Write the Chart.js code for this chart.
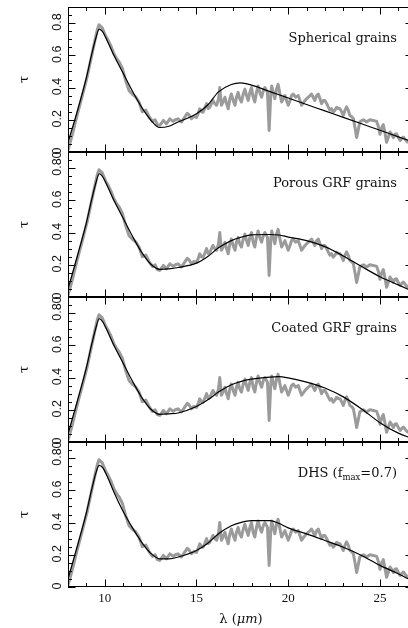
<!DOCTYPE html>
<html>
<head>
<meta charset="utf-8">
<script src="https://cdn.jsdelivr.net/npm/chart.js@4"></script>
<style>
  html, body { margin: 0; padding: 0; background: #fff; overflow: hidden; width: 408px; height: 628px; }
  canvas { position: absolute; left: 0; }
</style>
</head>
<body>
<script>
// observed optical depth profile, [lambda (um), tau]; the same spectrum in every panel
const obsSpectrum = [
  [8.0, 0.01], [8.24, 0.11], [8.5, 0.23], [8.78, 0.35], [9.05, 0.47], [9.33, 0.62], [9.5, 0.71],
  [9.6, 0.76], [9.69, 0.79], [9.78, 0.78], [9.87, 0.77], [10.05, 0.72], [10.2, 0.69], [10.33, 0.66],
  [10.5, 0.61], [10.65, 0.58], [10.78, 0.56], [10.96, 0.52], [11.15, 0.44], [11.33, 0.38],
  [11.5, 0.36], [11.7, 0.34], [11.87, 0.31], [12.05, 0.25], [12.24, 0.26], [12.42, 0.22],
  [12.6, 0.19], [12.75, 0.2], [12.87, 0.17], [13.0, 0.165], [13.1, 0.18], [13.2, 0.196],
  [13.36, 0.175], [13.55, 0.206], [13.73, 0.19], [13.85, 0.2], [14.0, 0.206], [14.18, 0.186],
  [14.36, 0.216], [14.5, 0.24], [14.6, 0.23], [14.73, 0.206], [14.85, 0.22], [15.0, 0.215],
  [15.1, 0.24], [15.18, 0.268], [15.27, 0.25], [15.36, 0.247], [15.45, 0.27], [15.55, 0.30],
  [15.64, 0.27], [15.73, 0.278], [15.82, 0.3], [15.9, 0.32], [16.0, 0.3], [16.1, 0.29],
  [16.2, 0.33], [16.27, 0.40], [16.36, 0.29], [16.45, 0.31], [16.55, 0.34], [16.64, 0.3],
  [16.73, 0.268], [16.82, 0.33], [16.9, 0.36], [17.0, 0.32], [17.1, 0.29], [17.18, 0.34],
  [17.27, 0.37], [17.36, 0.33], [17.45, 0.31], [17.55, 0.36], [17.64, 0.39], [17.73, 0.35],
  [17.82, 0.32], [17.91, 0.37], [18.0, 0.40], [18.09, 0.34], [18.18, 0.31], [18.27, 0.37],
  [18.36, 0.41], [18.45, 0.37], [18.55, 0.34], [18.64, 0.38], [18.73, 0.40], [18.87, 0.37],
  [18.96, 0.134], [19.05, 0.36], [19.1, 0.41], [19.18, 0.37], [19.27, 0.33], [19.36, 0.39],
  [19.45, 0.42], [19.55, 0.36], [19.64, 0.31], [19.73, 0.33], [19.82, 0.35], [19.91, 0.32],
  [20.0, 0.29], [20.1, 0.32], [20.18, 0.35], [20.27, 0.36], [20.4, 0.34], [20.55, 0.35],
  [20.64, 0.32], [20.73, 0.29], [20.85, 0.31], [21.0, 0.33], [21.1, 0.34], [21.27, 0.36],
  [21.36, 0.34], [21.45, 0.32], [21.55, 0.35], [21.64, 0.36], [21.73, 0.33], [21.82, 0.30],
  [21.91, 0.32], [22.0, 0.32], [22.1, 0.3], [22.18, 0.28], [22.27, 0.26], [22.36, 0.27],
  [22.45, 0.247], [22.55, 0.26], [22.64, 0.278], [22.73, 0.27], [22.82, 0.268], [22.91, 0.25],
  [23.0, 0.227], [23.1, 0.26], [23.18, 0.28], [23.27, 0.26], [23.36, 0.227], [23.45, 0.22],
  [23.55, 0.206], [23.64, 0.15], [23.73, 0.09], [23.82, 0.14], [23.9, 0.186], [24.0, 0.195],
  [24.1, 0.2], [24.27, 0.186], [24.45, 0.2], [24.64, 0.196], [24.82, 0.19], [24.91, 0.16],
  [25.0, 0.11], [25.09, 0.15], [25.18, 0.17], [25.27, 0.12], [25.36, 0.06], [25.45, 0.09],
  [25.55, 0.124], [25.64, 0.11], [25.73, 0.09], [25.82, 0.11], [25.9, 0.113], [26.0, 0.09],
  [26.1, 0.072], [26.2, 0.085], [26.27, 0.093], [26.4, 0.075], [26.5, 0.062], [26.7, 0.08]
];

// model fits
const modelLambda = [
  8.0, 8.5, 9.0, 9.3, 9.5, 9.7, 9.9, 10.2, 10.5, 11.0, 11.5, 12.0, 12.5, 13.0, 13.5, 14.0,
  15.0, 15.6, 16.2, 16.9, 17.4, 18.0, 19.0, 19.5, 20.0, 21.0, 22.0, 23.0, 24.0, 25.0, 26.0, 26.8
];
const tauSpherical = [
  0.06, 0.25, 0.46, 0.61, 0.70, 0.763, 0.745, 0.675, 0.60, 0.49, 0.38, 0.28, 0.20, 0.152, 0.16, 0.186,
  0.238, 0.29, 0.373, 0.419, 0.429, 0.415, 0.375, 0.355, 0.335, 0.295, 0.255, 0.215, 0.175, 0.135, 0.094, 0.062
];
const tauPorous = [
  0.05, 0.25, 0.46, 0.61, 0.70, 0.765, 0.745, 0.675, 0.60, 0.49, 0.38, 0.28, 0.205, 0.172, 0.175, 0.183,
  0.21, 0.25, 0.305, 0.35, 0.37, 0.385, 0.388, 0.385, 0.372, 0.35, 0.313, 0.255, 0.189, 0.126, 0.075, 0.035
];
const tauCoated = [
  0.05, 0.25, 0.46, 0.61, 0.70, 0.765, 0.745, 0.675, 0.60, 0.49, 0.38, 0.28, 0.205, 0.172, 0.175, 0.18,
  0.22, 0.26, 0.31, 0.355, 0.375, 0.39, 0.403, 0.406, 0.398, 0.372, 0.335, 0.28, 0.205, 0.12, 0.055, 0.02
];
const tauDHS = [
  0.05, 0.25, 0.46, 0.61, 0.70, 0.755, 0.74, 0.67, 0.59, 0.47, 0.37, 0.28, 0.21, 0.175, 0.175, 0.186,
  0.227, 0.27, 0.33, 0.38, 0.40, 0.412, 0.412, 0.395, 0.367, 0.33, 0.289, 0.247, 0.196, 0.134, 0.082, 0.035
];

const panelModels = [tauSpherical, tauPorous, tauCoated, tauDHS];
const panelNames = ['Spherical grains', 'Porous GRF grains', 'Coated GRF grains', 'DHS'];

const xTicks = [10, 15, 20, 25];
const yTicks = [0, 0.2, 0.4, 0.6, 0.8];
const yTickLabelsFirst = ['0', '0.2', '0.4', '0.6', '0.8'];
const yTickLabelsRest = ['0', '0.2', '0.4', '0.6', '0.80'];

const PANEL_TOPS = [7, 152, 297, 442];
const PANEL_H = 145;
const PAD = 10;
const BOTTOM_EXTRA = 41;
const CAPTION_FONT = '13px "DejaVu Serif", serif';

// frame, inward ticks and all text for one panel
function panelDecor(idx, last) {
  return {
    id: 'panelDecor',
    afterDatasetsDraw(chart) {
      const { ctx, chartArea: a, scales: { x, y } } = chart;
      ctx.save();
      ctx.strokeStyle = '#000';
      ctx.lineWidth = 1;
      ctx.strokeRect(a.left + 0.5, a.top + 0.5, a.width - 1, a.height - 1);

      ctx.beginPath();
      for (let v = 8; v <= 26; v++) {
        const px = Math.round(x.getPixelForValue(v)) + 0.5;
        const len = v % 5 === 0 ? 7.5 : 4;
        ctx.moveTo(px, a.top); ctx.lineTo(px, a.top + len);
        ctx.moveTo(px, a.bottom); ctx.lineTo(px, a.bottom - len);
      }
      for (let k = 0; k <= 18; k++) {
        const py = Math.round(y.getPixelForValue(k * 0.05)) + 0.5;
        const len = k % 4 === 0 ? 7.5 : 4;
        ctx.moveTo(a.left, py); ctx.lineTo(a.left + len, py);
        ctx.moveTo(a.right, py); ctx.lineTo(a.right - len, py);
      }
      ctx.stroke();

      ctx.fillStyle = '#111';
      // rotated y tick labels
      const labels = idx === 0 ? yTickLabelsFirst : yTickLabelsRest;
      ctx.font = '12.5px "Liberation Sans", Arial, sans-serif';
      ctx.textBaseline = 'middle';
      ctx.textAlign = 'left';
      yTicks.forEach((v, i) => {
        const txt = labels[i];
        const core = ctx.measureText(txt.slice(0, 3)).width;
        const py = y.getPixelForValue(v) - 1;
        ctx.save();
        ctx.translate(a.left - 10, py + core / 2);
        ctx.rotate(-Math.PI / 2);
        ctx.fillText(txt, 0, 0);
        ctx.restore();
      });

      // axis symbol
      ctx.font = '13px "DejaVu Serif", serif';
      ctx.textAlign = 'center';
      ctx.save();
      ctx.translate(25, (a.top + a.bottom) / 2);
      ctx.rotate(-Math.PI / 2);
      ctx.fillText('τ', 0, 0);
      ctx.restore();

      // panel caption
      const right = 397;
      const cy = a.top + 32;
      ctx.font = CAPTION_FONT;
      ctx.textAlign = 'right';
      if (idx < 3) {
        ctx.fillText(panelNames[idx], right, cy);
      } else {
        const tail = '=0.7)';
        const sub = 'max';
        const head = panelNames[idx] + ' (f';
        const wTail = ctx.measureText(tail).width;
        ctx.fillText(tail, right, cy);
        ctx.font = '8.5px "DejaVu Serif", serif';
        const wSub = ctx.measureText(sub).width;
        ctx.fillText(sub, right - wTail, cy + 4);
        ctx.font = CAPTION_FONT;
        ctx.fillText(head, right - wTail - wSub, cy);
      }

      if (last) {
        ctx.font = '13px "Liberation Serif", "Times New Roman", serif';
        ctx.textAlign = 'center';
        xTicks.forEach(v => {
          ctx.fillText(String(v), x.getPixelForValue(v), a.bottom + 12);
        });
        const t1 = 'λ (', t2 = 'μm', t3 = ')';
        ctx.font = 'italic 13px "DejaVu Serif", serif';
        const w2 = ctx.measureText(t2).width;
        ctx.font = '13px "DejaVu Serif", serif';
        const w1 = ctx.measureText(t1).width, w3 = ctx.measureText(t3).width;
        let sx = 241 - (w1 + w2 + w3) / 2;
        const ty = a.bottom + 33;
        ctx.textAlign = 'left';
        ctx.fillText(t1, sx, ty); sx += w1;
        ctx.font = 'italic 13px "DejaVu Serif", serif';
        ctx.fillText(t2, sx, ty); sx += w2;
        ctx.font = '13px "DejaVu Serif", serif';
        ctx.fillText(t3, sx, ty);
      }
      ctx.restore();
    }
  };
}

panelModels.forEach((model, i) => {
  const last = i === panelModels.length - 1;
  const h = PAD + PANEL_H + (last ? BOTTOM_EXTRA : PAD);
  const canvas = document.createElement('canvas');
  canvas.width = 420;
  canvas.height = h;
  canvas.style.top = (PANEL_TOPS[i] - PAD) + 'px';
  canvas.style.width = '420px';
  canvas.style.height = h + 'px';
  document.body.appendChild(canvas);

  new Chart(canvas, {
    type: 'line',
    data: {
      datasets: [
        {
          label: 'model',
          data: modelLambda.map((l, k) => ({ x: l, y: model[k] })),
          borderColor: '#000',
          borderWidth: 1.2,
          pointRadius: 0,
          cubicInterpolationMode: 'monotone',
          fill: false
        },
        {
          label: 'observed',
          data: obsSpectrum.map(([l, t]) => ({ x: l, y: t })),
          borderColor: '#9b9b9b',
          borderWidth: 3,
          borderJoinStyle: 'round',
          pointRadius: 0,
          tension: 0,
          fill: false
        }
      ]
    },
    options: {
      responsive: false,
      animation: false,
      events: [],
      layout: { padding: { left: 68, right: 7, top: PAD, bottom: last ? BOTTOM_EXTRA : PAD } },
      scales: {
        x: { type: 'linear', min: 8, max: 26.8, display: false },
        y: { type: 'linear', min: 0, max: 0.9, display: false }
      },
      plugins: {
        legend: { display: false },
        tooltip: { enabled: false }
      }
    },
    plugins: [panelDecor(i, last)]
  });
});
</script>
</body>
</html>
